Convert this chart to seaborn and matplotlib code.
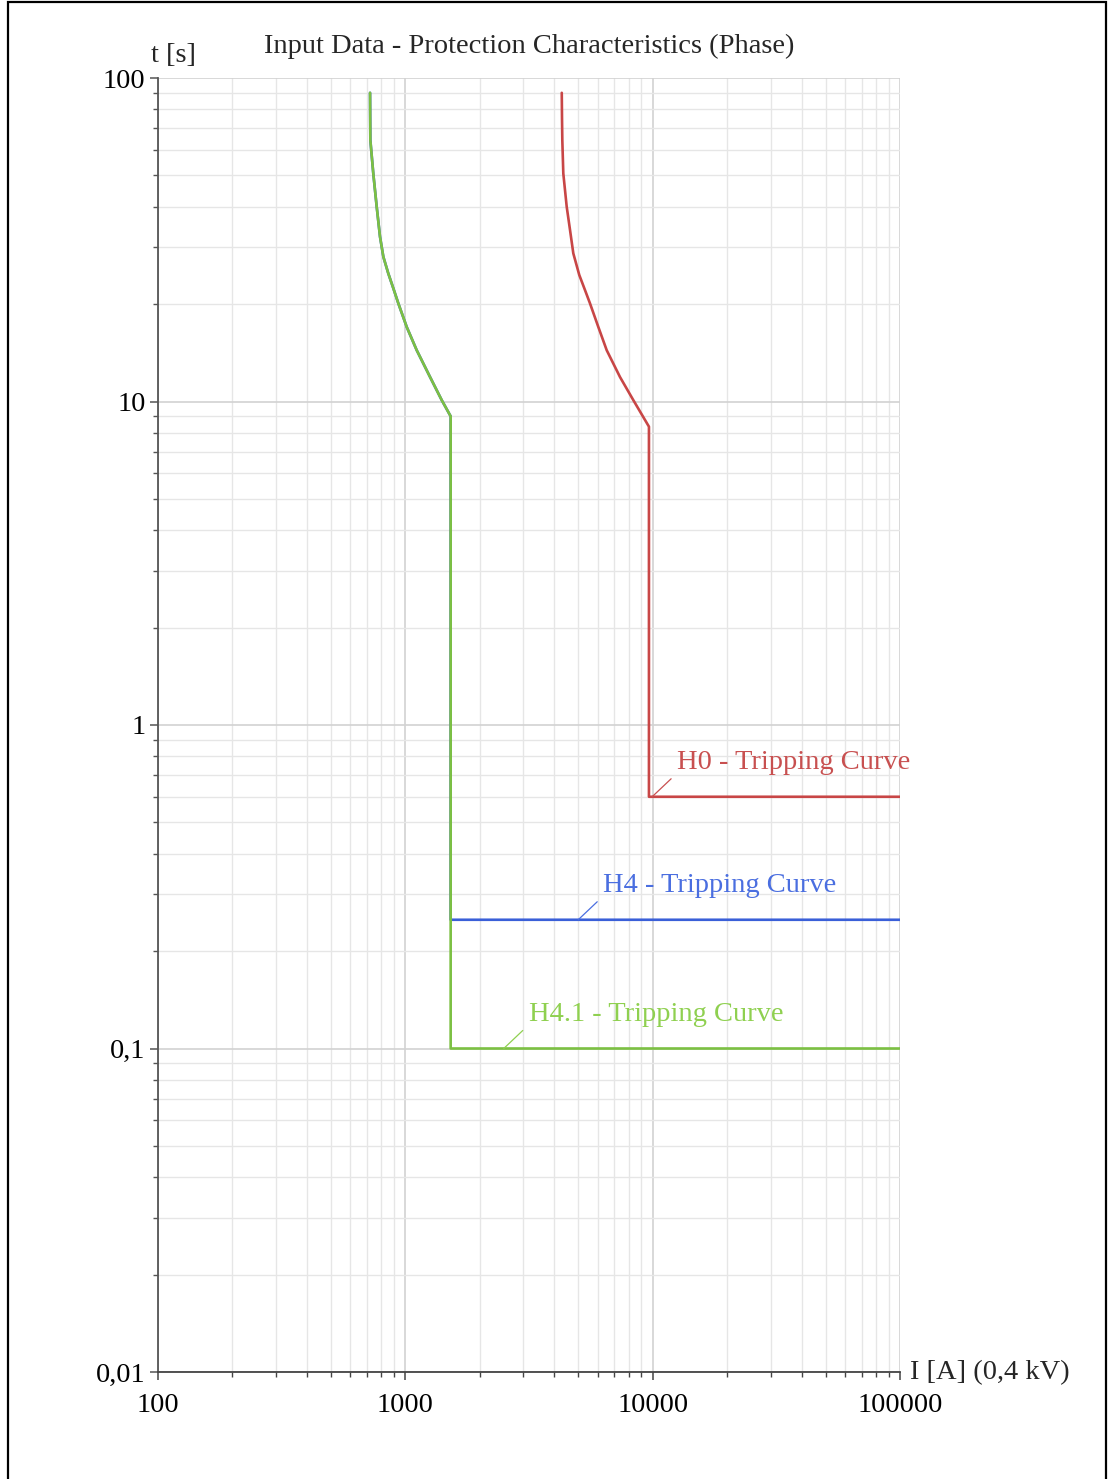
import numpy as np
import pandas as pd
import seaborn as sns
import matplotlib.pyplot as plt
from matplotlib.patches import Rectangle
from matplotlib.ticker import FixedLocator, LogLocator, NullFormatter

sns.set_style("white")
plt.rcParams["font.family"] = ["Liberation Serif", "DejaVu Serif"]

# Tripping curves: current I [A] and time t [s]
h0_current = [4290, 4300, 4312, 4352, 4492, 4633, 4777, 5050, 5326, 5580, 6029,
              6520, 7379, 8350, 9660, 9660, 100000]
h0_time = [90, 75, 64.3, 50.7, 40, 33.9, 28.7, 24.6, 22.1, 20.1, 17.0,
           14.4, 11.9, 10.1, 8.36, 0.6, 0.6]

h4_current = [720, 721, 722, 742, 766, 790, 815, 853, 894, 937, 1013,
              1112, 1259, 1403, 1525, 1525, 100000]
h4_time = [90, 75, 64.3, 50.7, 40, 32.3, 28, 24.9, 22.4, 20.1, 17.0,
           14.4, 11.9, 10.1, 9.0, 0.25, 0.25]

h41_current = [720, 721, 722, 742, 766, 790, 815, 853, 894, 937, 1013,
               1112, 1259, 1403, 1525, 1525, 100000]
h41_time = [90, 75, 64.3, 50.7, 40, 32.3, 28, 24.9, 22.4, 20.1, 17.0,
            14.4, 11.9, 10.1, 9.0, 0.1, 0.1]

curve_names = ["H0 - Tripping Curve", "H4 - Tripping Curve", "H4.1 - Tripping Curve"]
curve_colors = ["#c84646", "#3a5fd8", "#7cc043"]
label_colors = ["#c85050", "#4a6ee0", "#8fd050"]
label_current = [9950, 5000, 2500]
label_time = [0.6, 0.25, 0.1]

x_ticks = [100, 1000, 10000, 100000]
x_tick_labels = ["100", "1000", "10000", "100000"]
y_ticks = [0.01, 0.1, 1, 10, 100]
y_tick_labels = ["0,01", "0,1", "1", "10", "100"]

FS = 20.5
W, H = 1113, 1479
fig = plt.figure(figsize=(W / 100, H / 100), dpi=100)
ax_l, ax_r, ax_t, ax_b = 158, 900, 78, 1372
ax = fig.add_axes([ax_l / W, 1 - ax_b / H, (ax_r - ax_l) / W, (ax_b - ax_t) / H])

series = [(h0_current, h0_time), (h4_current, h4_time), (h41_current, h41_time)]
for (cur, tm), name, col in zip(series, curve_names, curve_colors):
    df = pd.DataFrame({"I": cur, "t": tm})
    sns.lineplot(data=df, x="I", y="t", sort=False, estimator=None, color=col,
                 lw=1.9, ax=ax, zorder=3)

ax.set_xscale("log")
ax.set_yscale("log")
ax.set_xlim(100, 100000)
ax.set_ylim(0.01, 100)
ax.set_xlabel("")
ax.set_ylabel("")

ax.xaxis.set_major_locator(FixedLocator(x_ticks))
ax.yaxis.set_major_locator(FixedLocator(y_ticks))
ax.xaxis.set_minor_locator(LogLocator(base=10, subs=np.arange(2, 10), numticks=20))
ax.yaxis.set_minor_locator(LogLocator(base=10, subs=np.arange(2, 10), numticks=20))
ax.xaxis.set_minor_formatter(NullFormatter())
ax.yaxis.set_minor_formatter(NullFormatter())
ax.set_xticklabels(x_tick_labels)
ax.set_yticklabels(y_tick_labels)

ax.grid(which="major", color="#d2d2d2", lw=1.2, zorder=0)
ax.grid(which="minor", color="#e6e6e6", lw=1.0, zorder=0)
ax.set_axisbelow(True)

for s in ["top", "right"]:
    ax.spines[s].set_visible(False)
ax.spines["left"].set_color("#555555")
ax.spines["bottom"].set_color("#444444")
ax.spines["left"].set_linewidth(1.3)
ax.spines["bottom"].set_linewidth(1.3)

ax.tick_params(axis="y", which="major", direction="out", length=6, width=1.1,
               color="#555555", left=True, labelsize=FS, pad=3, labelcolor="black")
ax.tick_params(axis="y", which="minor", direction="out", length=3.5, width=1.0,
               color="#555555", left=True)
ax.tick_params(axis="x", which="major", direction="out", length=6, width=1.1,
               color="#444444", bottom=True, labelsize=FS, pad=9, labelcolor="black")
ax.tick_params(axis="x", which="minor", direction="out", length=3.5, width=1.0,
               color="#444444", bottom=True)

# Curve labels with short leader lines
for name, col, xi, ti in zip(curve_names, label_colors, label_current, label_time):
    ax.annotate("", xy=(xi, ti), xytext=(19, 18), textcoords="offset pixels",
                arrowprops=dict(arrowstyle="-", color=col, lw=0.9, shrinkA=0, shrinkB=0),
                zorder=4)
    ax.annotate(name, xy=(xi, ti), xytext=(25, 34), textcoords="offset pixels",
                ha="left", va="center", color=col, fontsize=FS, zorder=4)

# Title and axis captions
fig.text((ax_l + ax_r) / 2 / W, 1 - 46 / H,
         "Input Data - Protection Characteristics (Phase)",
         ha="center", va="center", fontsize=FS)
fig.text(151 / W, 1 - 55 / H, "t [s]", ha="left", va="center", fontsize=FS)
fig.text(910 / W, 1 - 1373 / H, "I [A] (0,4 kV)", ha="left", va="center", fontsize=FS)

# Page frame
fig.add_artist(Rectangle((7.5 / W, -0.05), (1106 - 7.5) / W, 1.05 - 2.5 / H,
                         transform=fig.transFigure, fill=False, ec="black", lw=1.6))

fig.savefig("out.png", dpi=100)
